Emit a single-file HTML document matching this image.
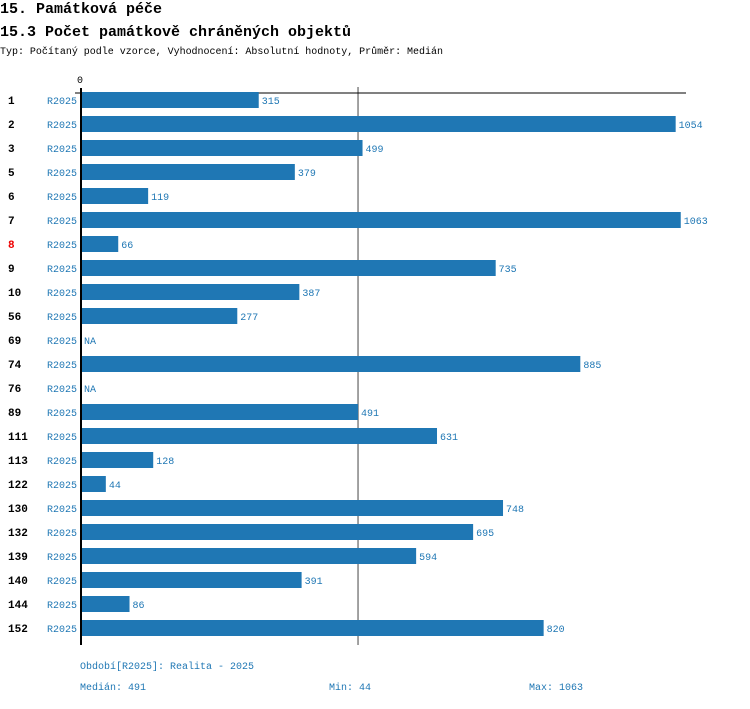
<!DOCTYPE html>
<html><head><meta charset="utf-8"><style>
body{margin:0;background:#fff;width:750px;height:704px;overflow:hidden}
svg text{font-family:"Liberation Mono",monospace}
</style></head><body>
<svg id="c" width="750" height="704">
<text x="0" y="13" font-size="15" font-weight="bold">15. Památková péče</text>
<text x="0" y="36" font-size="15" font-weight="bold">15.3 Počet památkově chráněných objektů</text>
<text x="0" y="54" font-size="10" textLength="443">Typ: Počítaný podle vzorce, Vyhodnocení: Absolutní hodnoty, Průměr: Medián</text>
<g id="bars"></g>
<text x="80" y="669" font-size="10" fill="#1f77b4">Období[R2025]: Realita - 2025</text>
<text x="80" y="690" font-size="10" fill="#1f77b4">Medián: 491</text>
<text x="329" y="690" font-size="10" fill="#1f77b4">Min: 44</text>
<text x="529" y="690" font-size="10" fill="#1f77b4">Max: 1063</text>
</svg>
<script>
const categories=["1","2","3","5","6","7","8","9","10","56","69","74","76","89","111","113","122","130","132","139","140","144","152"];
const values=[315,1054,499,379,119,1063,66,735,387,277,null,885,null,491,631,128,44,748,695,594,391,86,820];
const medianValue=491;
const NS="http://www.w3.org/2000/svg";
const g=document.getElementById('bars');
const x0=81,scale=0.5642,y0=100,step=24;
const xs=v=>x0+v*scale, ys=i=>y0+i*step;
function mk(t,a){const e=document.createElementNS(NS,t);for(const k in a)e.setAttribute(k,a[k]);g.appendChild(e);return e;}
const medLine=mk('line',{x1:xs(medianValue),y1:87,x2:xs(medianValue),y2:645,stroke:'#444','stroke-width':1});


const topAxis=mk('line',{x1:75,y1:93,x2:686,y2:93,stroke:'#000','stroke-width':1});


const zt=mk('text',{x:77,y:83,'font-size':10});zt.textContent='0';


categories.forEach((c,i)=>{
  const y=ys(i);
  const lab=mk('text',{x:8,y:y+4,'font-size':11,'font-weight':'bold','font-family':'Liberation Sans, sans-serif',fill:c==='8'?'#e00':'#000'});lab.textContent=c;
  
  
  const p=mk('text',{x:47,y:y+4,'font-size':10,fill:'#1f77b4'});p.textContent='R2025';
  
  
  const v=values[i];
  if(v!=null){
    const b=mk('rect',{x:x0,y:y-8,width:xs(v)-x0,height:16,fill:'#1f77b4'});
    
    
  }
  const t=mk('text',{x:(v!=null?xs(v):x0)+3,y:y+4,'font-size':10,fill:'#1f77b4'});t.textContent=v!=null?v:'NA';
  
  
});
const yAxis=mk('line',{x1:81,y1:88,x2:81,y2:645,stroke:'#000','stroke-width':2});


</script>
</body></html>
